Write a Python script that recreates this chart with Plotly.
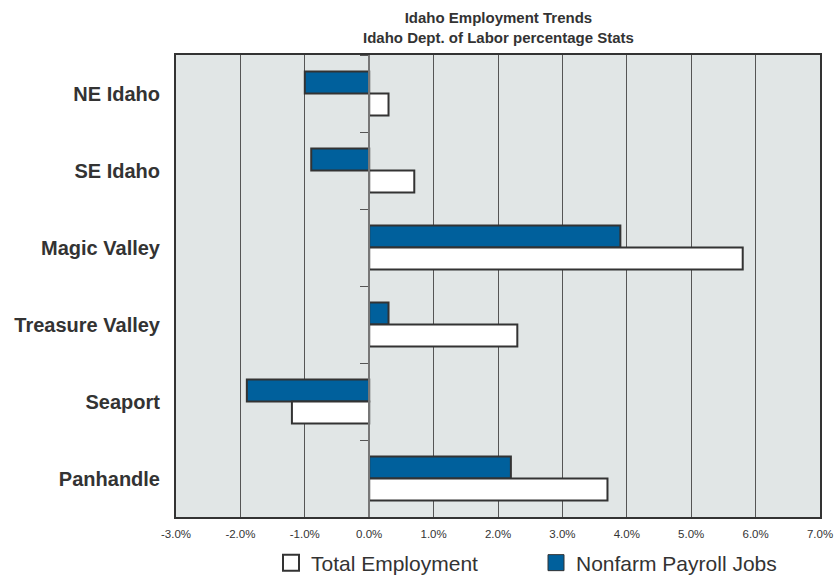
import plotly.graph_objects as go

regions = ["NE Idaho", "SE Idaho", "Magic Valley", "Treasure Valley", "Seaport", "Panhandle"]
nonfarm = [-1.0, -0.9, 3.9, 0.3, -1.9, 2.2]
total = [0.3, 0.7, 5.8, 2.3, -1.2, 3.7]
tick_vals = [-3, -2, -1, 0, 1, 2, 3, 4, 5, 6, 7]
tick_text = ["-3.0%", "-2.0%", "-1.0%", "0.0%", "1.0%", "2.0%", "3.0%", "4.0%", "5.0%", "6.0%", "7.0%"]

BLUE = "#00609C"
EDGE = "#333333"

fig = go.Figure()
fig.add_trace(go.Bar(y=regions, x=nonfarm, orientation="h", name="Nonfarm Payroll Jobs",
                     marker=dict(color=BLUE, line=dict(color=EDGE, width=2)), showlegend=False))
fig.add_trace(go.Bar(y=regions, x=total, orientation="h", name="Total Employment",
                     marker=dict(color="white", line=dict(color=EDGE, width=2)), showlegend=False))
# invisible trace to drive the zero-axis category ticks
fig.add_trace(go.Bar(y=regions, x=[0]*6, orientation="h", yaxis="y2", showlegend=False,
                     marker=dict(color="rgba(0,0,0,0)"), hoverinfo="skip"))
# legend entries
fig.add_trace(go.Scatter(x=[None], y=[None], mode="markers", name="Total Employment",
                         marker=dict(symbol="square", size=16, color="white", line=dict(color=EDGE, width=2))))
fig.add_trace(go.Scatter(x=[None], y=[None], mode="markers", name="Nonfarm Payroll Jobs",
                         marker=dict(symbol="square", size=16, color=BLUE, line=dict(color=EDGE, width=1))))

fig.update_layout(
    width=834, height=575,
    margin=dict(l=176, r=14, t=55, b=58, autoexpand=False),
    paper_bgcolor="white",
    plot_bgcolor="#E1E6E6",
    barmode="group",
    bargap=0.43,
    bargroupgap=0,
    font=dict(family="Liberation Sans, Arial, sans-serif", color="#333333"),
    annotations=[dict(text="<b>Idaho Employment Trends<br>Idaho Dept. of Labor percentage Stats</b>",
                      x=0.5, xref="paper", xanchor="center", y=1, yref="paper", yanchor="bottom",
                      yshift=7, showarrow=False, font=dict(size=15, color="#333333"))],
    xaxis=dict(range=[-3, 7], tickvals=tick_vals, ticktext=tick_text,
               showgrid=True, gridcolor="#555555", gridwidth=1, zeroline=False,
               showline=True, linecolor="#333333", linewidth=2, mirror=True,
               ticks="", tickfont=dict(size=11.5, color="#333333"),
               ticklabelstandoff=5, fixedrange=True),
    yaxis=dict(autorange="reversed", showgrid=False, zeroline=False,
               showline=True, linecolor="#333333", linewidth=2, mirror=True,
               ticks="", tickfont=dict(size=20, color="#333333"), ticklabelstandoff=10,
               tickprefix="<b>", ticksuffix="</b>"),
    yaxis2=dict(overlaying="y", anchor="free", position=0.3, autorange="reversed",
                showline=True, linecolor="#777777", linewidth=1.5, showgrid=False,
                ticks="outside", tickson="boundaries", ticklen=8, tickcolor="#555555",
                showticklabels=False, zeroline=False),
    legend=dict(orientation="h", x=271/834, xanchor="left", xref="container",
                y=(575-563)/575, yanchor="middle", yref="container",
                font=dict(size=21, color="#333333"), entrywidth=220,
                itemwidth=30, traceorder="normal", bgcolor="rgba(0,0,0,0)"),
    showlegend=True,
)
fig.write_html("out.html")
